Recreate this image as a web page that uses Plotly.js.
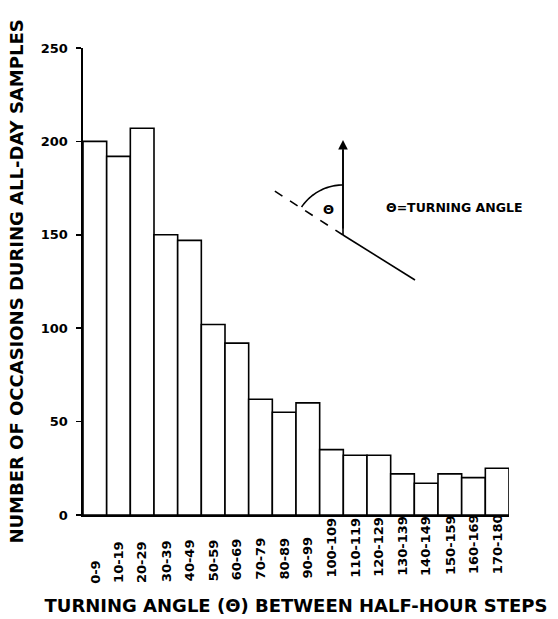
<!DOCTYPE html>
<html>
<head>
<meta charset="utf-8">
<script src="https://cdn.plot.ly/plotly-3.0.1.min.js"></script>
<style>html,body{margin:0;padding:0;background:#fff;}#chart{width:558px;height:619px;}</style>
</head>
<body>
<div id="chart"></div>
<script>
// Turning angle classes (degrees)
const categories = ["0-9","10-19","20-29","30-39","40-49","50-59","60-69","70-79","80-89","90-99",
  "100-109","110-119","120-129","130-139","140-149","150-159","160-169","170-180"];
// Number of occasions during all-day samples
const occasions = [200, 192, 207, 150, 147, 102, 92, 62, 55, 60, 35, 32, 32, 22, 17, 22, 20, 25];
const yTickValues = [0, 50, 100, 150, 200, 250];
const yTitle = "NUMBER OF OCCASIONS DURING ALL-DAY SAMPLES";
const xTitle = "TURNING ANGLE (\u0398) BETWEEN HALF-HOUR STEPS";
const insetLabel = "\u0398=TURNING ANGLE";

// plot area geometry in pixels (for the decorative inset diagram)
const L = 83, R = 49, T = 48, B = 104, W = 558, H = 619;
const pw = W - L - R, ph = H - T - B;
const px = x => (x - L) / pw;
const py = y => (T + ph - y) / ph;

const fam = "DejaVu Sans, sans-serif";
const tickFont = {family: fam, size: 13, color: "#000", weight: 700};
const titleFont = {family: fam, size: 18, color: "#000", weight: 700};

const trace = {
  type: "bar",
  x: categories,
  y: occasions,
  marker: {color: "#fff", line: {color: "#000", width: 1.6}},
  hoverinfo: "x+y"
};

// inset diagram: arc from vertical up to dashed direction
const cx = 343, cy = 235, r = 50;
const a0 = -90, a1 = -146; // degrees (screen coords)
let arcPath = "";
for (let i = 0; i <= 24; i++) {
  const a = (a0 + (a1 - a0) * i / 24) * Math.PI / 180;
  const x = cx + r * Math.cos(a), y = cy + r * Math.sin(a);
  arcPath += (i === 0 ? "M" : "L") + px(x).toFixed(5) + "," + py(y).toFixed(5);
}

const shapes = [
  {type: "line", xref: "paper", yref: "paper", x0: px(343), y0: py(235), x1: px(415), y1: py(280), line: {color: "#000", width: 1.6}},
  {type: "line", xref: "paper", yref: "paper", x0: px(343), y0: py(235), x1: px(273), y1: py(190), line: {color: "#000", width: 1.6, dash: "dash"}},
  {type: "line", xref: "paper", yref: "paper", x0: px(343), y0: py(235), x1: px(343), y1: py(150), line: {color: "#000", width: 1.6}},
  {type: "path", xref: "paper", yref: "paper", path: arcPath, line: {color: "#000", width: 1.6}},
  // small extension of the baseline to the left of the y axis
  {type: "line", xref: "paper", yref: "paper", x0: px(78), y0: 0, x1: 0, y1: 0, line: {color: "#000", width: 1.6}}
];

const n = categories.length;
const annotations = categories.map((c, i) => ({
  x: c, xref: "x", y: py(586 - 10 * i / (n - 1)), yref: "paper",
  text: c, textangle: -90,
  xanchor: "center", yanchor: "bottom", showarrow: false,
  font: tickFont
}));
annotations.push(
  {x: px(343), y: py(140), xref: "paper", yref: "paper", ax: 0, ay: 90, axref: "pixel", ayref: "pixel",
   showarrow: true, arrowhead: 2, arrowsize: 1.2, arrowwidth: 1.6, arrowcolor: "#000", text: ""},
  {x: px(328), y: py(209), xref: "paper", yref: "paper", text: "\u0398", showarrow: false,
   font: {family: fam, size: 13, color: "#000", weight: 700}},
  {x: px(384), y: py(207), xref: "paper", yref: "paper", text: insetLabel, showarrow: false,
   xanchor: "left", font: {family: fam, size: 12.5, color: "#000", weight: 700}}
);

const layout = {
  width: W, height: H,
  margin: {l: L, r: R, t: T, b: B, pad: 0},
  paper_bgcolor: "#fff", plot_bgcolor: "#fff",
  showlegend: false,
  bargap: 0,
  xaxis: {
    type: "category", range: [-0.5, 17.5], showline: true, linecolor: "#000", linewidth: 1.6,
    showgrid: false, zeroline: false, ticks: "", showticklabels: false, fixedrange: true,
    title: {text: xTitle, standoff: 84, font: titleFont}
  },
  yaxis: {
    range: [0, 250], tickvals: yTickValues, showline: true, linecolor: "#000", linewidth: 1.6,
    showgrid: false, zeroline: false, ticks: "outside", ticklen: 5, tickwidth: 1.6, tickcolor: "#000",
    tickfont: tickFont, ticklabelstandoff: 6, fixedrange: true,
    title: {text: yTitle, standoff: 12, font: titleFont}
  },
  shapes: shapes,
  annotations: annotations
};

Plotly.newPlot("chart", [trace], layout, {displayModeBar: false, staticPlot: true});
</script>
</body>
</html>
